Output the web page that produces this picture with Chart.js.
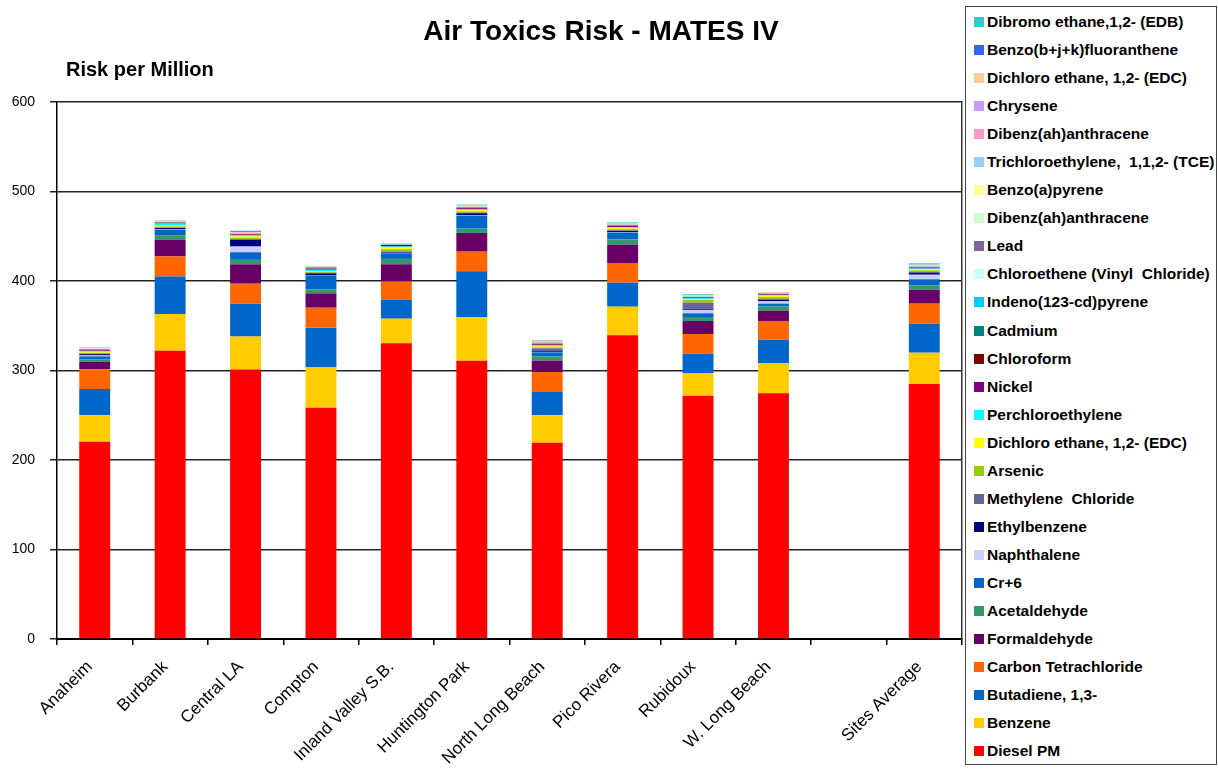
<!DOCTYPE html>
<html>
<head>
<meta charset="utf-8">
<script src="https://cdn.jsdelivr.net/npm/chart.js@4.4.1/dist/chart.umd.min.js"></script>
<style>
  body { margin:0; background:#fff; font-family:"Liberation Sans", Arial, sans-serif; }
  #wrap { position:relative; width:1218px; height:782px; overflow:hidden; }
  #c { position:absolute; left:0; top:0; }
  #legend { position:absolute; left:965px; top:6px; width:252px; height:759px; border:1.5px solid #444; background:#fff; box-sizing:border-box; padding-top:1px; }
  .row { display:flex; align-items:center; height:28.05px; font-weight:bold; font-size:15.5px; color:#000; white-space:pre; }
  .sw { width:10px; height:10px; margin-left:8px; margin-right:3px; flex:none; }
</style>
</head>
<body>
<div id="wrap">
  <canvas id="c" width="1192" height="782"></canvas>
  <div id="legend"></div>
</div>
<script>
const sites = ['Anaheim','Burbank','Central LA','Compton','Inland Valley S.B.','Huntington Park','North Long Beach','Pico Rivera','Rubidoux','W. Long Beach','','Sites Average'];
const yTicks = [0, 100, 200, 300, 400, 500, 600];

// risk per million, one value per site (blank slot before the average)
const dieselPM     = [220.5, 322, 301, 258.4, 330.4, 311, 219.4, 339.3, 271.9, 274.5, null, 284.9];
const benzene      = [29.5, 41, 37, 45.5, 27.5, 48.8, 30.6, 32, 24.9, 33.9, null, 35];
const butadiene    = [29.3, 42, 37, 44, 21, 51, 26, 26.8, 22, 26, null, 32.4];
const carbonTet    = [22, 22.4, 22, 22.3, 20.5, 22, 22.3, 22, 22, 20.9, null, 22.4];
const formaldehyde = [8.5, 18.6, 21.6, 16, 19.3, 20.9, 12.7, 20.5, 14.5, 11.5, null, 15.6];
const acetaldehyde = [2.5, 5.2, 5, 4.5, 6, 4.8, 4.8, 5.9, 4.5, 4.9, null, 4.9];
const cr6          = [3.5, 6, 8.5, 15.2, 6.3, 14.6, 4.5, 7.5, 4.1, 3, null, 6.7];
const naphthalene  = [1, 0.5, 6.4, 0.3, 0.5, 0.5, 0.5, 0.4, 3.7, 2.6, null, 5.1];
const ethylbenzene = [1.5, 1.5, 7.5, 2.3, 1, 2.1, 1.5, 1.5, 0.8, 1.8, null, 1.9];
const methyleneCl  = [0.8, 0.6, 0.8, 0.6, 0.5, 0.8, 2.5, 0.8, 7.4, 1, null, 1.5];
const arsenic      = [0.6, 1, 1.5, 1, 2.5, 1.2, 1, 1.2, 3, 2, null, 1.5];
const edcA         = [1.2, 1.2, 1.5, 1, 2, 1.5, 1.5, 1.5, 1, 1.5, null, 1.2];
const perc         = [1, 2.2, 1.2, 1.5, 1, 1.2, 0.8, 0.8, 0.8, 0.8, null, 0.8];
const nickel       = [0.8, 0.6, 0.8, 1, 0.6, 1, 1.2, 1.2, 0.6, 0.5, null, 0.8];
const chloroform   = [0.4, 0.4, 0.5, 0.4, 1.2, 0.4, 0.4, 0.4, 0.6, 0.6, null, 0.5];
const cadmium      = [0.3, 0.2, 0.3, 0.3, 0.2, 0.2, 0.3, 0.2, 0.2, 0.2, null, 0.2];
const indeno       = [0.2, 0.3, 0.3, 0.2, 0.2, 0.4, 0.5, 0.3, 0.3, 0.2, null, 0.3];
const vinylCl      = [0.1, 0.1, 0.1, 0.1, 0.1, 0.1, 0.2, 0.1, 0.2, 0.1, null, 0.3];
const lead         = [0.3, 0.2, 0.3, 0.8, 0.2, 0.3, 0.4, 0.4, 0.3, 0.2, null, 0.5];
const dibenzA      = [0.1, 0.1, 0.1, 0.1, 0.1, 0.1, 0.1, 0.1, 0.1, 0.1, null, 0.1];
const bap          = [0.2, 0.2, 0.2, 0.1, 0.1, 0.2, 0.2, 0.2, 0.2, 0.1, null, 0.2];
const tce          = [0.1, 0.1, 0.1, 0.1, 0.1, 0.2, 0.2, 0.2, 0.2, 0.1, null, 0.2];
const dibenzB      = [0.1, 0.1, 0.1, 0.1, 0.1, 0.1, 0.1, 0.1, 0.1, 0.1, null, 0.1];
const chrysene     = [0.1, 0.1, 0.1, 0.1, 0.1, 0.1, 0.1, 0.1, 0.1, 0.1, null, 0.2];
const edcB         = [1, 1, 1, 0.5, 0.6, 1.6, 1.5, 0.9, 1, 0.8, null, 1];
const bbjk         = [0.2, 0.2, 1, 0.1, 0.1, 0.2, 0.3, 0.3, 0.2, 0.1, null, 0.3];
const edb          = [0.3, 0.3, 0.3, 0.2, 0.1, 0.3, 0.5, 0.8, 0.8, 0.2, null, 1.2];

// stacking order, bottom first
const series = [
  ['Diesel PM', dieselPM, '#FF0000'],
  ['Benzene', benzene, '#FFCC00'],
  ['Butadiene, 1,3-', butadiene, '#0066CC'],
  ['Carbon Tetrachloride', carbonTet, '#FF6600'],
  ['Formaldehyde', formaldehyde, '#660066'],
  ['Acetaldehyde', acetaldehyde, '#339966'],
  ['Cr+6', cr6, '#0066CC'],
  ['Naphthalene', naphthalene, '#CCCCFF'],
  ['Ethylbenzene', ethylbenzene, '#000080'],
  ['Methylene  Chloride', methyleneCl, '#666699'],
  ['Arsenic', arsenic, '#99CC00'],
  ['Dichloro ethane, 1,2- (EDC)', edcA, '#FFFF00'],
  ['Perchloroethylene', perc, '#00FFFF'],
  ['Nickel', nickel, '#800080'],
  ['Chloroform', chloroform, '#800000'],
  ['Cadmium', cadmium, '#008080'],
  ['Indeno(123-cd)pyrene', indeno, '#00CCFF'],
  ['Chloroethene (Vinyl  Chloride)', vinylCl, '#CCFFFF'],
  ['Lead', lead, '#7F659F'],
  ['Dibenz(ah)anthracene', dibenzA, '#CCFFCC'],
  ['Benzo(a)pyrene', bap, '#FFFF99'],
  ['Trichloroethylene,  1,1,2- (TCE)', tce, '#99CCFF'],
  ['Dibenz(ah)anthracene', dibenzB, '#FF99CC'],
  ['Chrysene', chrysene, '#CC99FF'],
  ['Dichloro ethane, 1,2- (EDC)', edcB, '#FFCC99'],
  ['Benzo(b+j+k)fluoranthene', bbjk, '#3366FF'],
  ['Dibromo ethane,1,2- (EDB)', edb, '#33CCCC']
];

const FONT = '"Liberation Sans", Arial, sans-serif';

// axis caption sits horizontally above the plot, like the original
const axisCaption = {
  id: 'axisCaption',
  afterDraw(chart) {
    const { ctx, chartArea: a } = chart;
    ctx.save();
    ctx.fillStyle = '#000';
    ctx.font = 'bold 20px ' + FONT;
    ctx.textBaseline = 'middle';
    ctx.textAlign = 'left';
    ctx.fillText('Risk per Million', a.left + 9, 70);
    ctx.restore();
  }
};

new Chart(document.getElementById('c').getContext('2d'), {
  type: 'bar',
  data: {
    labels: sites,
    datasets: series.map(([label, data, color]) => ({
      label, data, backgroundColor: color, borderWidth: 0,
      barPercentage: 0.41, categoryPercentage: 1
    }))
  },
  options: {
    responsive: false,
    animation: false,
    layout: { padding: { left: 10, right: 0, top: 0, bottom: 0 } },
    plugins: {
      legend: { display: false },
      tooltip: { enabled: false },
      title: {
        display: true,
        text: 'Air Toxics Risk - MATES IV',
        color: '#000',
        font: { family: FONT, size: 28, weight: 'bold' },
        padding: { top: 15, bottom: 53.4 }
      }
    },
    scales: {
      x: {
        stacked: true,
        afterFit: s => { s.height = 143; s.paddingLeft = 0; s.paddingRight = 0; },
        grid: { drawOnChartArea: false, drawTicks: true, tickLength: 6, color: '#000', lineWidth: 1.5, offset: true },
        border: { color: '#000', width: 2 },
        ticks: { color: '#000', font: { family: FONT, size: 17 }, minRotation: 45, maxRotation: 45, padding: 12, labelOffset: -5, autoSkip: false }
      },
      y: {
        stacked: true,
        min: 0, max: 600,
        afterFit: s => { s.width = 47; },
        afterBuildTicks: s => { s.ticks = yTicks.map(v => ({ value: v })); },
        grid: { color: '#222', lineWidth: 1.5, tickLength: 7 },
        border: { color: '#000', width: 1.5 },
        ticks: { color: '#000', font: { family: FONT, size: 14 }, padding: 15 }
      },
      // empty right-hand strip: its border closes the plot, the legend sits over it
      side: {
        position: 'right',
        afterFit: s => { s.width = 230; },
        grid: { display: false },
        border: { display: true, color: '#333', width: 1.5 },
        ticks: { display: false }
      }
    }
  },
  plugins: [axisCaption]
});

const legend = document.getElementById('legend');
series.slice().reverse().forEach(([label, , color]) => {
  const row = document.createElement('div');
  row.className = 'row';
  const sw = document.createElement('span');
  sw.className = 'sw';
  sw.style.background = color;
  const txt = document.createElement('span');
  txt.textContent = label;
  row.appendChild(sw);
  row.appendChild(txt);
  legend.appendChild(row);
});
</script>
</body>
</html>
